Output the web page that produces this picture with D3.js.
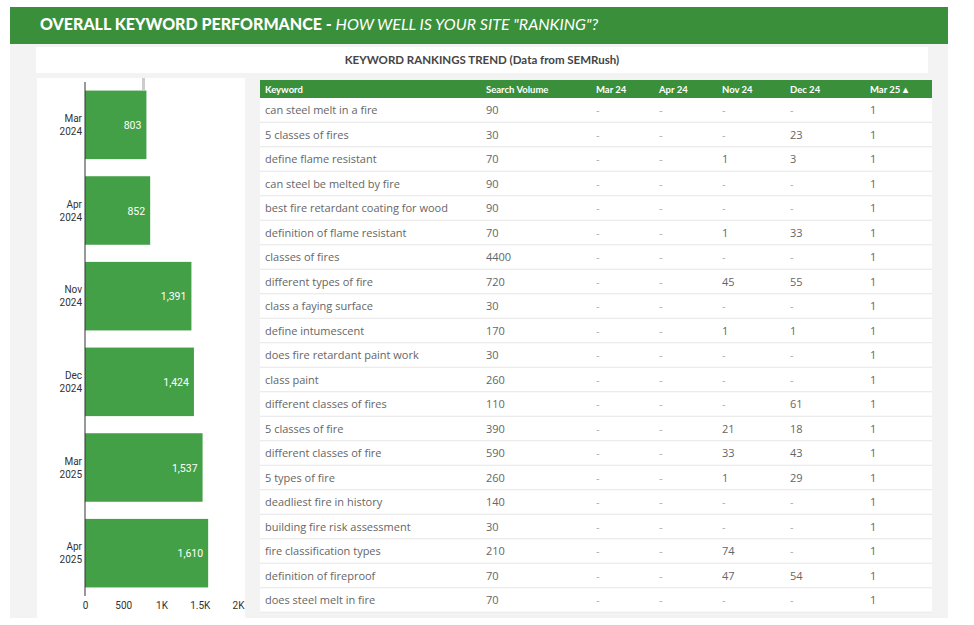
<!DOCTYPE html>
<html><head><meta charset="utf-8">
<script src="https://cdn.jsdelivr.net/npm/d3@7"></script>
<style>body{margin:0;background:#fff;font-family:"Open Sans",sans-serif}</style>
</head><body><svg id="c" width="974" height="625"></svg>
<script>
// monthly keyword counts for the bar chart
var months = ["Mar 2024","Apr 2024","Nov 2024","Dec 2024","Mar 2025","Apr 2025"];
var counts = [803, 852, 1391, 1424, 1537, 1610];
var xTicks = [0, 500, 1000, 1500, 2000];

// table
var columns = ["Keyword","Search Volume","Mar 24","Apr 24","Nov 24","Dec 24","Mar 25"];
var keywords = ["can steel melt in a fire","5 classes of fires","define flame resistant","can steel be melted by fire","best fire retardant coating for wood","definition of flame resistant","classes of fires","different types of fire","class a faying surface","define intumescent","does fire retardant paint work","class paint","different classes of fires","5 classes of fire","different classes of fire","5 types of fire","deadliest fire in history","building fire risk assessment","fire classification types","definition of fireproof","does steel melt in fire"];
var volumes = [90,30,70,90,90,70,4400,720,30,170,30,260,110,390,590,260,140,30,210,70,70];
var rankMar24 = keywords.map(function(){ return "-"; });
var rankApr24 = keywords.map(function(){ return "-"; });
var rankNov24 = ["-","-","1","-","-","1","-","45","-","1","-","-","-","21","33","1","-","-","74","47","-"];
var rankDec24 = ["-","23","3","-","-","33","-","55","-","1","-","-","61","18","43","29","-","-","-","54","-"];
var rankMar25 = keywords.map(function(){ return "1"; });

var svg = d3.select("#c");
var green = "#3a8f3a";

// panels
svg.append("rect").attr("x",10).attr("y",7).attr("width",938).attr("height",611).attr("fill","#f3f3f3");
svg.append("rect").attr("x",10).attr("y",7).attr("width",938).attr("height",37).attr("fill",green);
var t = svg.append("text").attr("x",40).attr("y",30).attr("fill","#fff").attr("font-size",16).attr("font-family","Lato, sans-serif");
t.append("tspan").attr("font-weight","900").text("OVERALL KEYWORD PERFORMANCE - ");
t.append("tspan").attr("font-style","italic").text("HOW WELL IS YOUR SITE \"RANKING\"?");

svg.append("rect").attr("x",36).attr("y",47).attr("width",892).attr("height",26).attr("fill","#fff");
svg.append("text").attr("x",482).attr("y",64).attr("text-anchor","middle").attr("font-size",11.5).attr("font-weight","700")
  .attr("font-family","Lato, sans-serif").attr("fill","#444").text("KEYWORD RANKINGS TREND (Data from SEMRush)");

svg.append("rect").attr("x",37).attr("y",78).attr("width",208).attr("height",540).attr("fill","#fff");

// bar chart
var x = d3.scaleLinear().domain([0,2000]).range([85,238]);
var y = d3.scaleBand().domain(months).range([82,596]).paddingInner(0.2).paddingOuter(0.1);
var g = svg.append("g").attr("font-family","Roboto, sans-serif");
g.append("rect").attr("x",142).attr("y",78).attr("width",3).attr("height",12).attr("fill","#ccc");
g.selectAll(".bar").data(counts).enter().append("rect")
  .attr("x",x(0)).attr("y",function(d,i){return y(months[i]);})
  .attr("width",function(d){return x(d)-x(0);}).attr("height",y.bandwidth()).attr("fill","#43a047");
g.selectAll(".lbl").data(counts).enter().append("text")
  .attr("x",function(d){return x(d)-5;}).attr("y",function(d,i){return y(months[i])+y.bandwidth()/2+4;})
  .attr("text-anchor","end").attr("fill","#fff").attr("font-size",10.5).text(d3.format(","));
months.forEach(function(m){
  var p = m.split(" ");
  var tx = g.append("text").attr("text-anchor","end").attr("font-size",10).attr("fill","#333");
  tx.append("tspan").attr("x",82).attr("y",y(m)+y.bandwidth()/2-3).text(p[0]);
  tx.append("tspan").attr("x",82).attr("y",y(m)+y.bandwidth()/2+10).text(p[1]);
});
g.append("line").attr("x1",85).attr("x2",85).attr("y1",82).attr("y2",596).attr("stroke","#333");
var ax = g.append("g").attr("transform","translate(0,596)")
  .call(d3.axisBottom(x).tickValues(xTicks).tickSize(0).tickPadding(6).tickFormat(function(d){return d>=1000?d3.format("~")(d/1000)+"K":d;}));
ax.select(".domain").remove();
ax.selectAll("text").attr("font-size",10).attr("fill","#333").attr("font-family","Roboto, sans-serif");

// table
var colX = [265,486,596,659,722,790,870];
var rowY = d3.scaleLinear().domain([0,20]).range([110,600]);
svg.append("rect").attr("x",260).attr("y",80).attr("width",672).attr("height",18).attr("fill",green);
svg.append("rect").attr("x",260).attr("y",98).attr("width",672).attr("height",515).attr("fill","#fff");
columns.forEach(function(c,i){
  svg.append("text").attr("x",colX[i]).attr("y",92.5).attr("fill","#fff").attr("font-size",9.5).attr("font-weight","700")
    .attr("font-family","Lato, sans-serif").text(c + (i==6?"  ▴":""));
});
keywords.forEach(function(k,i){
  var cy = rowY(i);
  svg.append("line").attr("x1",260).attr("x2",932).attr("y1",cy+12.25).attr("y2",cy+12.25).attr("stroke","#e6e6e6");
  var vals = [k, volumes[i], rankMar24[i], rankApr24[i], rankNov24[i], rankDec24[i], rankMar25[i]];
  vals.forEach(function(v,j){
    svg.append("text").attr("x",colX[j]).attr("y",cy+4).attr("font-size",11)
      .attr("fill", v=="-" ? "#aaa" : "#666").text(v);
  });
});
</script></body></html>
